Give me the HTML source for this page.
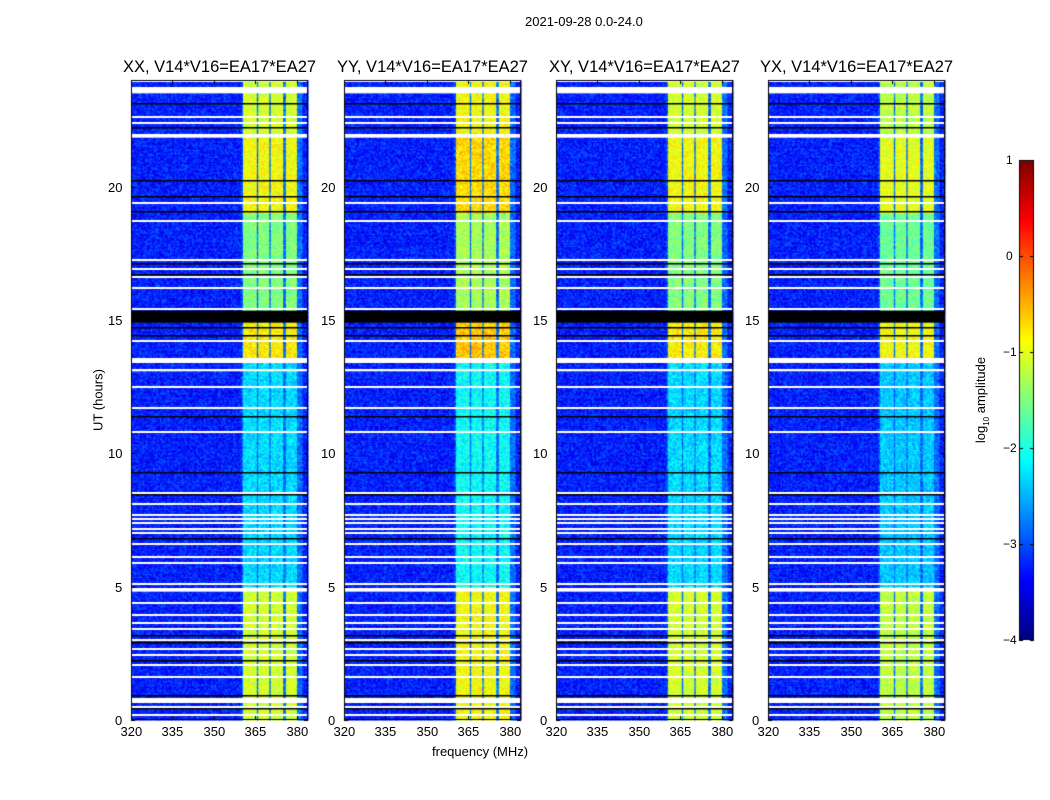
<!DOCTYPE html>
<html><head><meta charset="utf-8">
<style>
body{margin:0;background:#fff;font-family:"Liberation Sans",sans-serif;}
#root{position:relative;width:1050px;height:800px;overflow:hidden;background:#fff;}
.t{position:absolute;font-size:13px;color:#000;white-space:nowrap;}
.title{position:absolute;font-size:16.5px;white-space:nowrap;transform:translateX(-50%);}
canvas{position:absolute;}
</style></head>
<body>
<div id="root">
<div class="t" style="left:525px;top:14px;">2021-09-28 0.0-24.0</div>
<div class="t" style="left:432px;top:744px;">frequency (MHz)</div>
<div class="t" style="left:98px;top:400px;transform:translate(-50%,-50%) rotate(-90deg);">UT (hours)</div>
<div class="t" style="left:982px;top:400px;transform:translate(-50%,-50%) rotate(-90deg);">log<sub style="font-size:8px">10</sub> amplitude</div>
<canvas id="cv" width="1050" height="800" style="left:0;top:0"></canvas>
</div>
<script>
// ---- data ----
const panelTitles = ["XX, V14*V16=EA17*EA27","YY, V14*V16=EA17*EA27","XY, V14*V16=EA17*EA27","YX, V14*V16=EA17*EA27"];
const panelGain = [0, 0.2, 0.0, -0.1];
const freqTicks = [320,335,350,365,380];
const timeTicks = [0,5,10,15,20];
const cbarTicks = [1,0,-1,-2,-3,-4];
// band segments: start hour, end hour, band level (log10)
const segStart = [0, 5.0, 13.4, 15.35, 19.0, 22.0];
const segEnd   = [5.0, 13.4, 14.9, 19.0, 22.0, 24.0];
const segLevel = [-1.1, -2.3, -0.8, -1.5, -0.9, -1.1];
const backgroundLevel = -3.25;
// band frequency structure (MHz)
const bandStart = [360.5, 366, 370.5, 376];
const bandEnd   = [365.5, 370, 375, 380];
// flagged rows (hours)
const whiteRows = [23.6,22.6,22.4,21.9,19.4,18.7,17.25,16.9,16.6,16.2,15.4,14.2,13.45,13.1,12.5,11.7,10.8,8.5,8.1,7.7,7.55,7.4,7.15,7.0,6.6,6.1,5.9,5.1,4.85,4.4,3.95,3.65,3.4,3.0,2.65,2.45,2.05,1.6,0.7,0.5,0.2];
const whiteThick = [0.2,0,0,0.1,0,0,0,0,0,0,0,0,0.15,0.05,0,0,0,0,0,0,0,0,0,0,0,0,0,0,0.1,0,0,0,0,0,0,0,0,0,0.15,0,0];
const blackRows = [23.1,22.2,20.2,19.6,19.05,17.1,16.7,14.7,14.4,11.35,9.25,8.45,6.8,3.15,2.9,2.2,0.9,0.4];
const blackBlockStart = 14.9, blackBlockEnd = 15.35;

const fMin=320, fMax=384, tMin=0, tMax=24, vMin=-4, vMax=1;
const panelX = [131,344,556,768], panelW = 177, pTop = 80, pBot = 720;

function jet(v){
  let x=(v-vMin)/(vMax-vMin); x=Math.max(0,Math.min(1,x));
  const c=t=>Math.max(0,Math.min(1,1.5-Math.abs(4*x-t)));
  return `rgb(${Math.round(255*c(3))},${Math.round(255*c(2))},${Math.round(255*c(1))})`;
}
function hash(a,b,c){let h=(a*374761393+b*668265263+c*2147483647)|0;h=(h^(h>>>13))*1274126177;h=h^(h>>>16);return ((h>>>0)%1000)/1000;}

const cv=document.getElementById('cv');const ctx=cv.getContext('2d');
const root=document.getElementById('root');

panelX.forEach((px,p)=>{
  const xs=f=>px+(f-fMin)/(fMax-fMin)*panelW;
  const ys=t=>pBot-(t-tMin)/(tMax-tMin)*(pBot-pTop);
  const dT=0.05,dF=0.5;
  for(let ti=0;ti<tMax/dT;ti++){
    const t=ti*dT;
    let si=segStart.findIndex((s,i)=>t>=s&&t<segEnd[i]);
    const lvl=segLevel[si<0?0:si]+panelGain[p];
    for(let fi=0;fi<(fMax-fMin)/dF;fi++){
      const f=fMin+fi*dF;
      let inBand=bandStart.some((b,i)=>f>=b&&f<bandEnd[i]);
      let v=backgroundLevel+(hash(p,ti,fi)-0.5)*0.7;
      if(inBand) v=lvl+(hash(p+7,ti,fi)-0.5)*0.6;
      else if(f>=360&&f<382) v=backgroundLevel+0.4+(hash(p+3,ti,fi)-0.5)*0.6;
      ctx.fillStyle=jet(v);
      ctx.fillRect(xs(f),ys(t+dT),xs(f+dF)-xs(f)+0.5,ys(t)-ys(t+dT)+0.5);
    }
  }
  ctx.fillStyle='#fff';
  whiteRows.forEach((h,i)=>{const th=whiteThick[i];const y1=ys(h+th/2),y2=ys(h-th/2);ctx.fillRect(px,Math.round(y1)-1,panelW,Math.max(2,y2-y1+1));});
  ctx.fillStyle='#000';
  blackRows.forEach(h=>{ctx.fillRect(px,Math.round(ys(h))-1,panelW,1.5);});
  ctx.fillRect(px,ys(blackBlockEnd),panelW,ys(blackBlockStart)-ys(blackBlockEnd));
  ctx.fillStyle='#fff';ctx.fillRect(px,pTop,panelW,2);
  ctx.strokeStyle='#000';ctx.lineWidth=1;ctx.strokeRect(px+0.5,pTop+0.5,panelW-1,pBot-pTop-1);
  freqTicks.forEach(f=>{const x=Math.round(xs(f))+0.5;ctx.beginPath();ctx.moveTo(x,pBot);ctx.lineTo(x,pBot-4);ctx.moveTo(x,pTop);ctx.lineTo(x,pTop+4);ctx.stroke();
    const d=document.createElement('div');d.className='t';d.textContent=f;d.style.left=(x-11)+'px';d.style.top=(pBot+4)+'px';
    
    
    root.appendChild(d);});
  timeTicks.forEach(t=>{const y=Math.round(ys(t))+0.5;ctx.beginPath();ctx.moveTo(px,y);ctx.lineTo(px+4,y);ctx.moveTo(px+panelW,y);ctx.lineTo(px+panelW-4,y);ctx.stroke();
    const d=document.createElement('div');d.className='t';d.textContent=t;d.style.left=(px-8-(t>=10?15:8))+'px';d.style.top=(y-8)+'px';
    
    
    root.appendChild(d);});
  const tt=document.createElement('div');tt.className='title';tt.textContent=panelTitles[p];tt.style.left=(px+panelW/2)+'px';tt.style.top='58px';
  
  
  root.appendChild(tt);
});
// colorbar
const cbX=1019,cbW=15,cbT=160,cbB=640;
for(let y=cbT;y<cbB;y++){const v=vMax-(y-cbT)/(cbB-cbT)*(vMax-vMin);ctx.fillStyle=jet(v);ctx.fillRect(cbX,y,cbW,1);}
ctx.strokeStyle='#000';ctx.strokeRect(cbX+0.5,cbT+0.5,cbW-1,cbB-cbT-1);
cbarTicks.forEach(v=>{const y=Math.round(cbB-(v-vMin)/(vMax-vMin)*(cbB-cbT))+0.5;ctx.beginPath();ctx.moveTo(cbX,y);ctx.lineTo(cbX+4,y);ctx.moveTo(cbX+cbW,y);ctx.lineTo(cbX+cbW-4,y);ctx.stroke();
  const d=document.createElement('div');d.className='t';d.style.fontSize='12px';d.textContent=v<0?'\u2212'+(-v):v;d.style.left=(v<0?1003:1006)+'px';d.style.top=(y-8)+'px';
  
  
  root.appendChild(d);});
</script>
</body></html>
